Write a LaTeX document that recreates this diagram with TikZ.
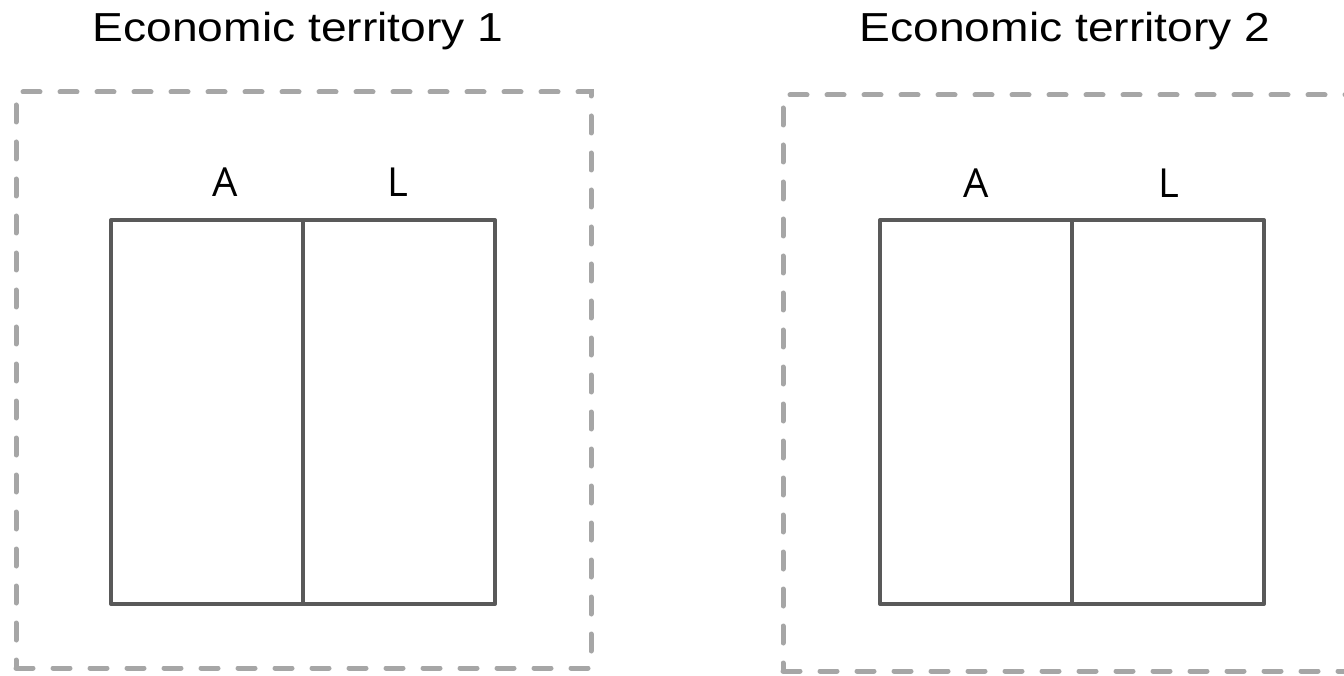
\documentclass[tikz,border=0pt]{standalone}
\usepackage{fontspec}
\setmainfont{Liberation Sans}
\newfontfamily\sidefont{Open Sans}
\usetikzlibrary{positioning}
\definecolor{boxgray}{HTML}{595959}
\definecolor{dashgray}{HTML}{A6A6A6}
\tikzset{
  territory/.style={draw=dashgray, line width=5pt, line cap=round,
    dash pattern=on 17pt off 20pt, minimum width=575pt, minimum height=576pt,
    inner sep=0pt, outer sep=0pt},
  half/.style={draw=boxgray, line width=4pt, line join=round,
    minimum width=192pt, minimum height=384pt, inner sep=0pt, outer sep=0pt},
  title/.style={font=\fontsize{40.5}{48}\selectfont, anchor=base,
    xscale=1.14, transform shape},
  side/.style={font=\sidefont\fontsize{40}{48}\selectfont, anchor=base}
}

\begin{document}
\begin{tikzpicture}[x=1pt,y=-1pt]
  \clip (0,0) rectangle (1344,676);
  \fill[white] (0,0) rectangle (1344,676);

  % dashed territories
  \node[territory] (t1) at (303.5,380) {};
  \node[territory] (t2) at (1070.5,383) {};
  \node[title] (t1name) at (298,42) {Economic territory 1};
  \node[title] (t2name) at (1065,42) {Economic territory 2};

  % balance sheets
  \node[half] (a1) at (207,412) {};
  \node[half, right=0pt of a1] (l1) {};
  \node[half] (a2) at (976,412) {};
  \node[half, right=0pt of a2] (l2) {};

  \node[side] (a1name) at (225,197) {A};
  \node[side] (l1name) at (398,197) {L};
  \node[side] (a2name) at (976,198) {A};
  \node[side] (l2name) at (1169,198) {L};
\end{tikzpicture}
\end{document}
